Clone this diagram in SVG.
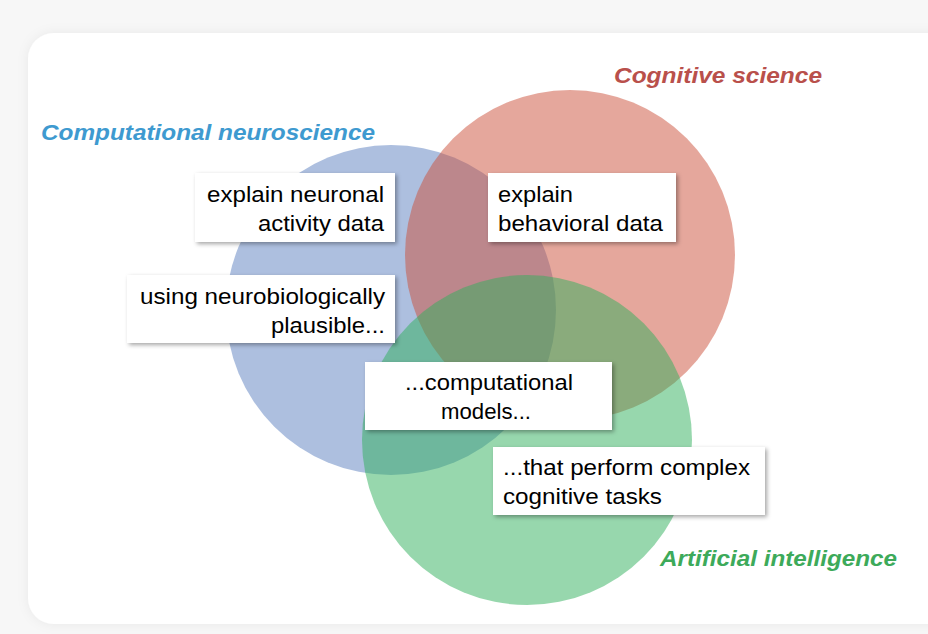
<svg xmlns="http://www.w3.org/2000/svg" width="928" height="634" viewBox="0 0 928 634">
<defs>
<filter id="sh" x="-10%" y="-10%" width="130%" height="140%"><feDropShadow dx="2" dy="2" stdDeviation="2" flood-color="#000" flood-opacity="0.35"/></filter>
<filter id="ps" x="-5%" y="-5%" width="110%" height="110%"><feDropShadow dx="0" dy="0" stdDeviation="6" flood-color="#000" flood-opacity="0.06"/></filter>
</defs>
<style>
.box{fill:#fff;filter:url(#sh)}
.t{font-family:"Liberation Sans",Arial,sans-serif;font-size:22px;fill:#000}
.h{font-family:"Liberation Sans",Arial,sans-serif;font-size:22px;font-weight:bold;font-style:italic}
</style>
<rect width="928" height="634" fill="#f7f7f7"/>
<rect x="28" y="33" width="940" height="591" rx="26" fill="#fff" filter="url(#ps)"/>
<g id="circles">
<circle id="blue" cx="391" cy="310" r="165" fill="#5b7fbf" fill-opacity="0.5"/>
<circle id="red" cx="570" cy="255" r="165" fill="#cb4f39" fill-opacity="0.5"/>
<circle id="green" cx="527" cy="440" r="165" fill="#2fb05c" fill-opacity="0.5"/>
</g>
<g id="labels">
<text class="h" x="41" y="140" fill="#3e9ad0" textLength="334" lengthAdjust="spacingAndGlyphs">Computational neuroscience</text>
<text class="h" x="614" y="83" fill="#b9504b" textLength="208" lengthAdjust="spacingAndGlyphs">Cognitive science</text>
<text class="h" x="660" y="566" fill="#3daa5a" textLength="237" lengthAdjust="spacingAndGlyphs">Artificial intelligence</text>
</g>
<g id="box1"><rect class="box" x="195" y="173" width="200" height="69"/>
<text class="t" x="207" y="202" textLength="177" lengthAdjust="spacingAndGlyphs">explain neuronal</text><text class="t" x="258" y="231" textLength="126" lengthAdjust="spacingAndGlyphs">activity data</text></g>
<g id="box2"><rect class="box" x="488" y="173" width="188" height="69"/>
<text class="t" x="498" y="202" textLength="75" lengthAdjust="spacingAndGlyphs">explain</text><text class="t" x="498" y="231" textLength="165" lengthAdjust="spacingAndGlyphs">behavioral data</text></g>
<g id="box3"><rect class="box" x="127" y="275" width="268" height="68"/>
<text class="t" x="140" y="304" textLength="245" lengthAdjust="spacingAndGlyphs">using neurobiologically</text><text class="t" x="271" y="333" textLength="114" lengthAdjust="spacingAndGlyphs">plausible...</text></g>
<g id="box4"><rect class="box" x="365" y="362" width="247" height="68"/>
<text class="t" x="405" y="390" textLength="168" lengthAdjust="spacingAndGlyphs">...computational</text><text class="t" x="441" y="419" textLength="90" lengthAdjust="spacingAndGlyphs">models...</text></g>
<g id="box5"><rect class="box" x="493" y="447" width="272" height="68"/>
<text class="t" x="503" y="475" textLength="247" lengthAdjust="spacingAndGlyphs">...that perform complex</text><text class="t" x="503" y="504" textLength="159" lengthAdjust="spacingAndGlyphs">cognitive tasks</text></g>
<g id="connectors"/>
</svg>
